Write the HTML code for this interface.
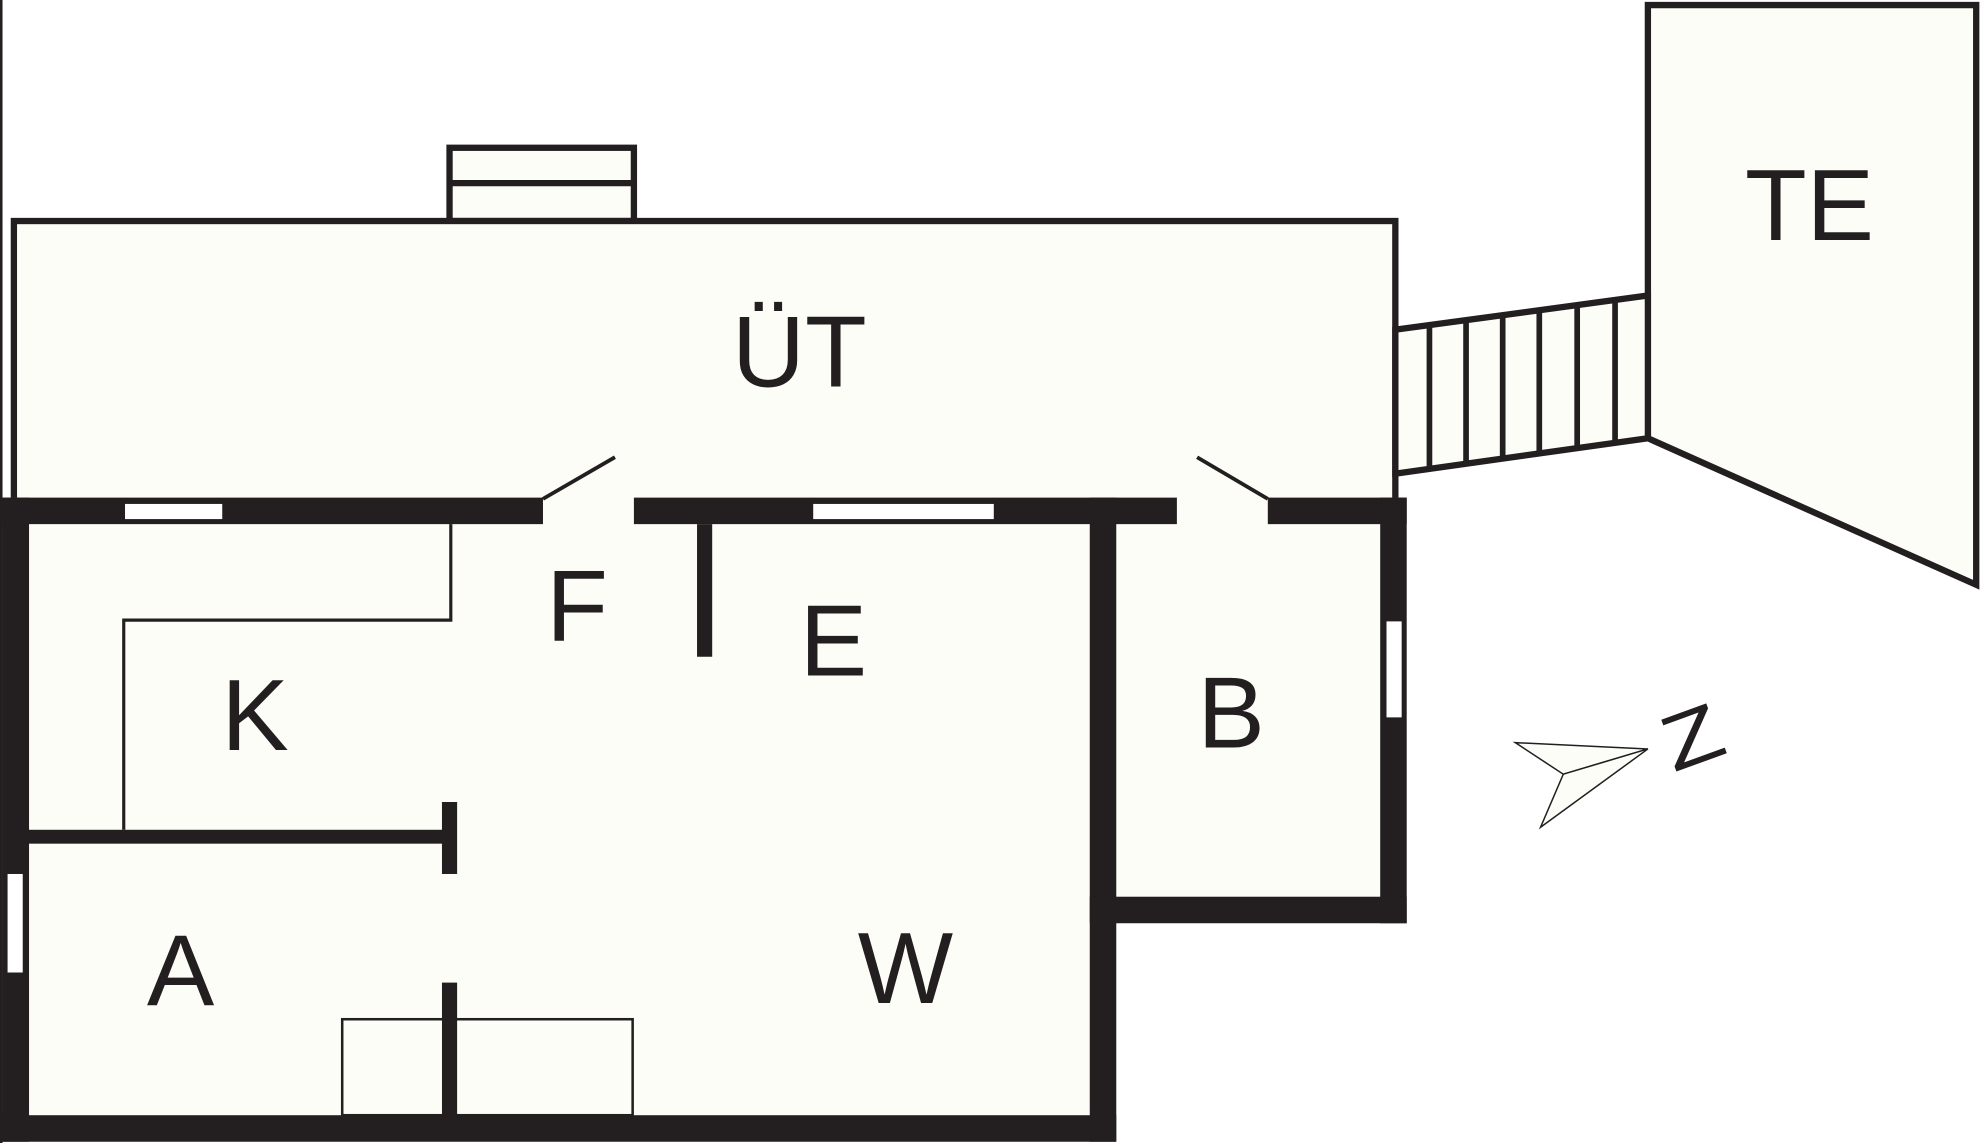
<!DOCTYPE html>
<html><head><meta charset="utf-8"><style>
html,body{margin:0;padding:0;background:#fff;}
svg{display:block;}
text{font-family:"Liberation Sans",sans-serif;fill:#231f20;}
</style></head><body>
<svg width="1980" height="1143" viewBox="0 0 1568 905" preserveAspectRatio="none" xmlns="http://www.w3.org/2000/svg">
<rect width="1568" height="905" fill="#fff"/>
<line x1="1" y1="0" x2="1" y2="905" stroke="#231f20" stroke-width="2"/>
<!-- top small rect -->
<rect x="356" y="117" width="146" height="58" fill="#fdfdf8" stroke="#231f20" stroke-width="5"/>
<line x1="356" y1="145" x2="502" y2="145" stroke="#231f20" stroke-width="5"/>
<!-- UT -->
<rect x="11" y="175" width="1094" height="222" fill="#fdfdf8" stroke="#231f20" stroke-width="5"/>
<!-- TE -->
<polygon points="1305,4 1565,4 1565,463 1305,347" fill="#fdfdf8" stroke="#231f20" stroke-width="5"/>
<!-- stairs -->
<polygon points="1105,261 1305,234 1305,347 1105,375" fill="#fdfdf8" stroke="#231f20" stroke-width="5"/>
<g stroke="#231f20" stroke-width="4.5">
<line x1="1132" y1="257" x2="1132" y2="371"/>
<line x1="1161" y1="253" x2="1161" y2="367"/>
<line x1="1190" y1="249" x2="1190" y2="363"/>
<line x1="1219" y1="245" x2="1219" y2="359"/>
<line x1="1249" y1="241" x2="1249" y2="355"/>
<line x1="1279" y1="237" x2="1279" y2="351"/>
</g>
<!-- main building floor -->
<rect x="2" y="394" width="882" height="510" fill="#fdfdf8"/>
<rect x="863" y="394" width="251" height="337" fill="#fdfdf8"/>
<g fill="#231f20">
<rect x="2" y="394" width="428" height="21"/>
<rect x="502" y="394" width="430" height="21"/>
<rect x="1004" y="394" width="110" height="21"/>
<rect x="2" y="394" width="21" height="510"/>
<rect x="2" y="883" width="882" height="21"/>
<rect x="863" y="394" width="21" height="510"/>
<rect x="1093" y="394" width="21" height="337"/>
<rect x="863" y="710" width="251" height="21"/>
<rect x="552" y="415" width="12" height="105"/>
<rect x="22" y="657" width="334" height="11"/>
<rect x="350" y="635" width="12" height="57"/>
<rect x="350" y="778" width="12" height="105"/>
</g>
<!-- windows -->
<g fill="#fff">
<rect x="99" y="399" width="77" height="12"/>
<rect x="644" y="399" width="143" height="12"/>
<rect x="6" y="692" width="12" height="78"/>
<rect x="1098" y="492" width="12" height="76"/>
</g>
<!-- doors -->
<g stroke="#231f20" stroke-width="3">
<line x1="430" y1="395" x2="487" y2="362"/>
<line x1="1004" y1="395" x2="948" y2="362"/>
</g>
<!-- thin lines -->
<polyline points="357,415 357,491 98,491 98,657" fill="none" stroke="#231f20" stroke-width="2.5"/>
<rect x="271" y="807" width="230" height="76" fill="none" stroke="#231f20" stroke-width="2"/>
<!-- compass -->
<g fill="#fdfdf8" stroke="#231f20" stroke-width="1.2">
<polygon points="1200,588 1305,593 1238,613"/>
<polygon points="1238,613 1305,593 1220,655"/>
</g>
<g transform="translate(1340 583) rotate(-20) scale(1.25 1)">
<text x="0" y="22" font-size="62" text-anchor="middle">Z</text>
</g>
<!-- labels -->
<g font-size="80" text-anchor="middle">
<text x="633" y="306">ÜT</text>
<text x="1433" y="190">TE</text>
<text x="457" y="507">F</text>
<text x="660" y="535">E</text>
<text x="202" y="594">K</text>
<text x="975" y="592">B</text>
<text x="143" y="796">A</text>
<text x="717" y="794">W</text>
</g>
</svg>
</body></html>
